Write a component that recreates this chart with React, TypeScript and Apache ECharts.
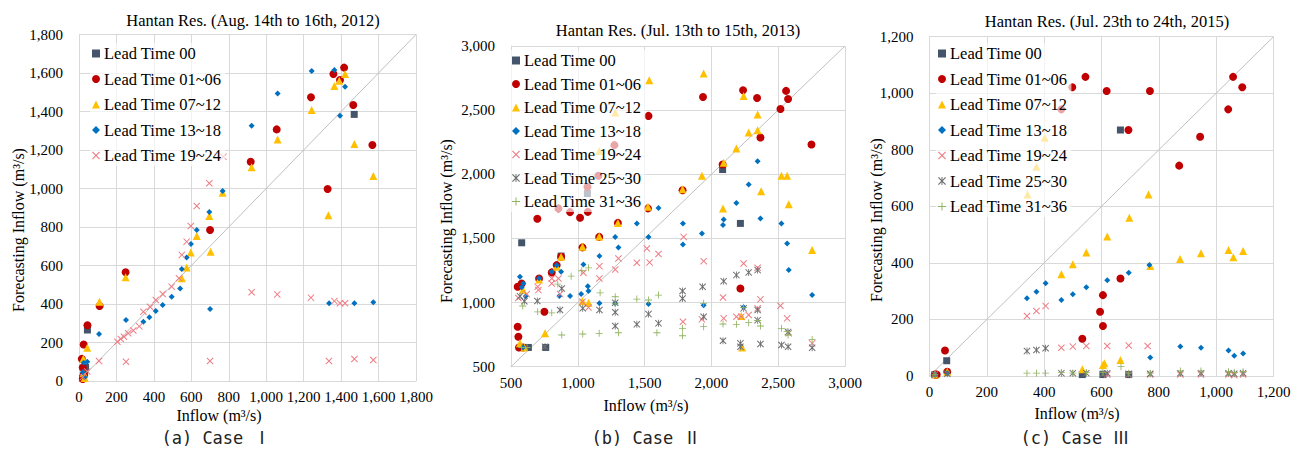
import React, { useEffect, useRef } from "react";
import * as echarts from "echarts";

// ---------- DATA ----------
const seriesNames = [
  "Lead Time 00",
  "Lead Time 01~06",
  "Lead Time 07~12",
  "Lead Time 13~18",
  "Lead Time 19~24",
  "Lead Time 25~30",
  "Lead Time 31~36",
];

const panelTitles = [
  "Hantan Res. (Aug. 14th to 16th, 2012)",
  "Hantan Res. (Jul. 13th to 15th, 2013)",
  "Hantan Res. (Jul. 23th to 24th, 2015)",
];
const panelCaptions = ["(a) Case Ⅰ", "(b) Case Ⅱ", "(c) Case Ⅲ"];
const xAxisTitle = "Inflow (m³/s)";
const yAxisTitle = "Forecasting Inflow (m³/s)";

// axis ranges [min, max, interval]
const axisRangeA = [0, 1800, 200];
const axisRangeB = [500, 3000, 500];
const axisRangeC = [0, 1200, 200];

// Case I
const A_LT00 = [[1470, 1385], [45, 265], [30, 40], [35, 70], [20, 15], [25, 25]];
const A_LT01_06 = [[1416, 1628], [1359, 1595], [1394, 1564], [1239, 1474], [1465, 1434], [1056, 1307], [1567, 1226], [917, 1139], [1328, 997], [700, 784], [249, 565], [110, 390], [45, 290], [25, 190], [15, 115], [20, 70], [25, 30], [20, 10]];
const A_LT07_12 = [[1421, 1595], [1364, 1532], [1390, 1560], [1243, 1408], [1061, 1255], [1471, 1231], [922, 1110], [1572, 1065], [767, 978], [1332, 861], [696, 857], [629, 753], [597, 667], [703, 672], [575, 590], [549, 534], [249, 539], [109, 412], [44, 173], [23, 115], [25, 40], [30, 15]];
const A_LT13_18 = [[1243, 1610], [1364, 1616], [1061, 1494], [922, 1326], [1421, 1529], [1394, 1378], [767, 987], [696, 878], [629, 784], [598, 712], [575, 642], [549, 582], [540, 481], [495, 438], [447, 395], [410, 364], [376, 331], [344, 308], [251, 317], [107, 244], [700, 374], [1336, 404], [1471, 404], [1572, 409], [44, 100], [25, 95], [20, 45], [30, 20]];
const A_LT19_24 = [[771, 1165], [696, 1027], [629, 909], [597, 805], [575, 724], [549, 655], [534, 534], [495, 490], [447, 452], [410, 421], [379, 386], [344, 360], [322, 284], [290, 262], [263, 248], [240, 230], [223, 218], [205, 204], [107, 104], [251, 100], [700, 104], [922, 461], [1059, 450], [1239, 433], [1364, 415], [1394, 404], [1421, 404], [1335, 104], [1471, 114], [1572, 109], [44, 50], [20, 20]];

// Case II
const B_LT00 = [[580, 1466], [2217, 1617], [2084, 2037], [1072, 1850], [875, 1362], [570, 650], [600, 650], [630, 650], [760, 650]];
const B_LT01_06 = [[2559, 2650], [2237, 2655], [2574, 2587], [2342, 2595], [1937, 2603], [2517, 2509], [1529, 2455], [2367, 2287], [2749, 2232], [2084, 2076], [1784, 1876], [1525, 1734], [1075, 1707], [1017, 1661], [942, 1705], [855, 1734], [697, 1653], [1154, 1988], [1274, 2227], [1072, 1902], [1300, 1621], [550, 812], [555, 734], [750, 928], [2217, 1110], [1035, 1430], [1160, 1512], [875, 1357], [842, 1292], [805, 1235], [710, 1188], [580, 1149], [550, 1123], [560, 650], [590, 650]];
const B_LT07_12 = [[1942, 2785], [1535, 2733], [2241, 2611], [1280, 2481], [2346, 2466], [2279, 2326], [2346, 2343], [2187, 2201], [1160, 2182], [2092, 2089], [1929, 1988], [2524, 1988], [2567, 1988], [1784, 1884], [2372, 1868], [2579, 1767], [1525, 1746], [2087, 1734], [1300, 1621], [2754, 1409], [1035, 1435], [1160, 1515], [875, 1357], [842, 1280], [710, 1180], [590, 1100], [755, 760], [2224, 895], [1080, 998], [567, 682], [600, 650], [2230, 650], [1035, 1010]];
const B_LT13_18 = [[2346, 2102], [2279, 1920], [2187, 1777], [2367, 1656], [2092, 1648], [2524, 1617], [1787, 1617], [1442, 1617], [1604, 1738], [2087, 1604], [1529, 1512], [1280, 1512], [1304, 1430], [1787, 1453], [1929, 1539], [2567, 1461], [2579, 1253], [2754, 1058], [1042, 1297], [1162, 1362], [875, 1240], [1075, 1128], [1080, 1090], [1025, 1066], [942, 1051], [862, 1051], [1162, 994], [1280, 994], [1529, 988], [1942, 980], [2241, 963], [567, 1201], [592, 1149], [842, 1290], [805, 1240], [710, 1190], [580, 1120], [610, 1050], [590, 650]];
const B_LT19_24 = [[1517, 1422], [1792, 1512], [1604, 1378], [1942, 1323], [1442, 1310], [1537, 1313], [1304, 1344], [1162, 1284], [1280, 1258], [1042, 1232], [1162, 1188], [2241, 1305], [2346, 1271], [2367, 1025], [2087, 1040], [2517, 975], [2567, 877], [2092, 877], [1787, 850], [1929, 869], [2187, 889], [2279, 903], [2346, 955], [2754, 682], [2579, 760], [805, 1188], [855, 1188], [700, 1123], [705, 1097], [805, 1149], [867, 1066], [1080, 962], [1035, 1006], [618, 1066], [555, 1035], [2224, 890]];
const B_LT25_30 = [[1784, 1090], [1934, 1123], [2092, 1167], [2187, 1214], [2279, 1235], [2346, 1253], [1784, 1032], [1280, 998], [1037, 955], [1162, 942], [1280, 924], [1529, 910], [1280, 817], [1442, 830], [1604, 838], [1942, 889], [2087, 702], [2217, 682], [2217, 655], [2367, 677], [2524, 669], [2574, 656], [2754, 648], [2346, 942], [2241, 955], [2346, 863], [755, 656], [867, 942], [697, 1012], [880, 1110], [567, 1050], [600, 1010], [2574, 770]];
const B_LT31_36 = [[1080, 1271], [950, 1206], [1030, 1248], [1167, 1076], [1280, 1045], [1442, 1027], [1604, 1058], [1529, 1020], [1942, 994], [1942, 812], [1784, 799], [1784, 741], [2087, 833], [2187, 830], [2279, 843], [2346, 860], [2367, 817], [2524, 799], [2567, 773], [2574, 747], [2754, 713], [1592, 765], [1304, 765], [1160, 760], [1037, 755], [880, 747], [700, 928], [805, 920], [850, 1144], [588, 973], [2241, 963], [1280, 990], [620, 650], [580, 650]];

// Case III
const C_LT00 = [[666, 870], [60, 54], [19, 5], [533, 5], [605, 5], [695, 5]];
const C_LT01_06 = [[544, 1058], [498, 1021], [618, 1008], [769, 1008], [694, 870], [1059, 1058], [1091, 1021], [1042, 943], [944, 846], [871, 744], [460, 943], [666, 345], [605, 286], [595, 227], [605, 177], [533, 132], [54, 90], [62, 15], [19, 5], [25, 5]];
const C_LT07_12 = [[764, 642], [697, 560], [402, 843], [373, 740], [342, 642], [620, 493], [547, 437], [500, 395], [460, 360], [770, 389], [874, 414], [947, 434], [1043, 446], [1060, 420], [1094, 442], [666, 57], [605, 39], [610, 45], [533, 24], [62, 15], [19, 5]];
const C_LT13_18 = [[767, 393], [695, 365], [620, 339], [547, 314], [500, 289], [460, 269], [405, 328], [373, 298], [340, 275], [770, 65], [875, 104], [947, 100], [1043, 90], [1063, 72], [1094, 80], [62, 10], [19, 5]];
const C_LT19_24 = [[340, 212], [373, 230], [405, 248], [460, 100], [500, 104], [547, 106], [620, 106], [695, 108], [761, 106], [620, 5], [695, 5], [770, 5], [875, 5], [947, 5], [1043, 5], [1063, 3], [1094, 5], [19, 5]];
const C_LT25_30 = [[340, 88], [373, 92], [405, 98], [460, 10], [500, 10], [547, 10], [605, 8], [620, 10], [695, 8], [770, 8], [875, 10], [947, 10], [1043, 10], [1063, 8], [1094, 10], [19, 5], [62, 8]];
const C_LT31_36 = [[340, 10], [373, 10], [405, 10], [460, 12], [500, 10], [547, 12], [605, 12], [668, 33], [695, 10], [770, 10], [875, 18], [947, 18], [1043, 15], [1063, 12], [1094, 15], [19, 5]];

// ---------- STYLE ----------
const SYM_X = "path://M0,1L1,0L5,4L9,0L10,1L6,5L10,9L9,10L5,6L1,10L0,9L4,5Z";
const SYM_PLUS = "path://M4.4,0H5.6V4.4H10V5.6H5.6V10H4.4V5.6H0V4.4H4.4Z";
const SYM_STAR = "path://M0,1L1,0L5,4L9,0L10,1L6,5L10,9L9,10L5,6L1,10L0,9L4,5Z M4.4,0H5.6V10H4.4Z";

const seriesStyles = [
  { color: "#44546A", symbol: "rect", size: 7 },
  { color: "#C00000", symbol: "circle", size: 8 },
  { color: "#FFC000", symbol: "triangle", size: 8 },
  { color: "#0070C0", symbol: "diamond", size: 6 },
  { color: "#EE7C84", symbol: SYM_X, size: 7 },
  { color: "#6E6E70", symbol: SYM_STAR, size: 7 },
  { color: "#8FB35E", symbol: SYM_PLUS, size: 7 },
];

const SERIF = '"Liberation Serif", "Times New Roman", serif';

export default function App() {
  const ref = useRef<HTMLDivElement>(null);

  useEffect(() => {
    if (!ref.current) return;
    const chart = echarts.init(ref.current, undefined, { renderer: "svg" });

    const panels = [
      { data: [A_LT00, A_LT01_06, A_LT07_12, A_LT13_18, A_LT19_24], range: axisRangeA,
        grid: { left: 79, top: 34.5, width: 337, height: 346.5 },
        legend: { left: 90, top: 43, gap: 8.5 }, xMargin: 8,
        title: [253, 20], xName: [219, 415], yName: [18, 230], caption: [216, 438] },
      { data: [B_LT00, B_LT01_06, B_LT07_12, B_LT13_18, B_LT19_24, B_LT25_30, B_LT31_36], range: axisRangeB,
        grid: { left: 511, top: 46, width: 334, height: 320.7 },
        legend: { left: 510, top: 50, gap: 6.5 }, xMargin: 9,
        title: [678, 30], xName: [646, 405], yName: [446, 221], caption: [646, 438] },
      { data: [C_LT00, C_LT01_06, C_LT07_12, C_LT13_18, C_LT19_24, C_LT25_30, C_LT31_36], range: axisRangeC,
        grid: { left: 929.5, top: 36.7, width: 344, height: 339.3 },
        legend: { left: 936, top: 43, gap: 8.5 }, xMargin: 8,
        title: [1107, 21], xName: [1077, 413], yName: [876, 220], caption: [1075, 438] },
    ];

    const labelFmt = (v: number) => v.toLocaleString("en-US");
    const grids: any[] = [];
    const xAxes: any[] = [];
    const yAxes: any[] = [];
    const series: any[] = [];
    const legends: any[] = [];
    const graphics: any[] = [];

    panels.forEach((p, i) => {
      grids.push({ ...p.grid, containLabel: false });
      const [mn, mx, iv] = p.range;
      const axisCommon = {
        type: "value", min: mn, max: mx, interval: iv, gridIndex: i,
        axisLine: { show: true, lineStyle: { color: "#D9D9D9" } },
        axisTick: { show: false },
        splitLine: { show: true, lineStyle: { color: "#D9D9D9", width: 1 } },
      };
      xAxes.push({ ...axisCommon, axisLabel: { margin: p.xMargin, color: "#000", fontFamily: SERIF, fontSize: 15, formatter: labelFmt } });
      yAxes.push({ ...axisCommon, axisLabel: { margin: 16, color: "#000", fontFamily: SERIF, fontSize: 15, formatter: labelFmt } });

      // 1:1 line
      series.push({
        type: "line", name: "1:1", xAxisIndex: i, yAxisIndex: i, silent: true,
        data: [[mn, mn], [mx, mx]], symbol: "none",
        lineStyle: { color: "#BFBFBF", width: 1 }, z: 1,
      });

      p.data.forEach((d, k) => {
        const st = seriesStyles[k];
        series.push({
          type: "scatter", name: seriesNames[k], xAxisIndex: i, yAxisIndex: i,
          data: d, symbol: st.symbol, symbolSize: st.size,
          itemStyle: { color: st.color, opacity: 1 }, z: 2 + k,
        });
      });

      legends.push({
        data: seriesNames.slice(0, p.data.length),
        orient: "vertical", left: p.legend.left, top: p.legend.top,
        itemWidth: 8, itemHeight: 8, itemGap: p.legend.gap,
        padding: [2, 4, 2, 2],
        backgroundColor: "rgba(255,255,255,0.65)",
        selectedMode: false,
        textStyle: { fontFamily: SERIF, fontSize: 16.5, color: "#000", padding: [0, 0, 0, -1] },
        z: 10,
      });

      graphics.push({
        type: "text", x: p.title[0], y: p.title[1],
        style: { text: panelTitles[i], align: "center", verticalAlign: "middle", fontFamily: SERIF, fontSize: 16.5, fill: "#000" },
      });
      graphics.push({
        type: "text", x: p.xName[0], y: p.xName[1],
        style: { text: xAxisTitle, align: "center", verticalAlign: "middle", fontFamily: SERIF, fontSize: 16, fill: "#000" },
      });
      graphics.push({
        type: "text", x: p.yName[0], y: p.yName[1], rotation: Math.PI / 2,
        style: { text: yAxisTitle, align: "center", verticalAlign: "middle", fontFamily: SERIF, fontSize: 16, fill: "#000" },
      });
      graphics.push({
        type: "text", x: p.caption[0], y: p.caption[1],
        style: { text: panelCaptions[i], align: "center", verticalAlign: "middle", fontFamily: '"DejaVu Sans Mono", "Noto Sans CJK KR", monospace', fontSize: 17, fill: "#222" },
      });
    });

    chart.setOption({
      animation: false,
      backgroundColor: "#fff",
      grid: grids,
      xAxis: xAxes,
      yAxis: yAxes,
      legend: legends,
      series,
      graphic: graphics,
    });

    return () => chart.dispose();
  }, []);

  return (
    <div
      ref={ref}
      style={{ position: "fixed", left: 0, top: 0, width: 1299, height: 450, background: "#fff" }}
    />
  );
}
